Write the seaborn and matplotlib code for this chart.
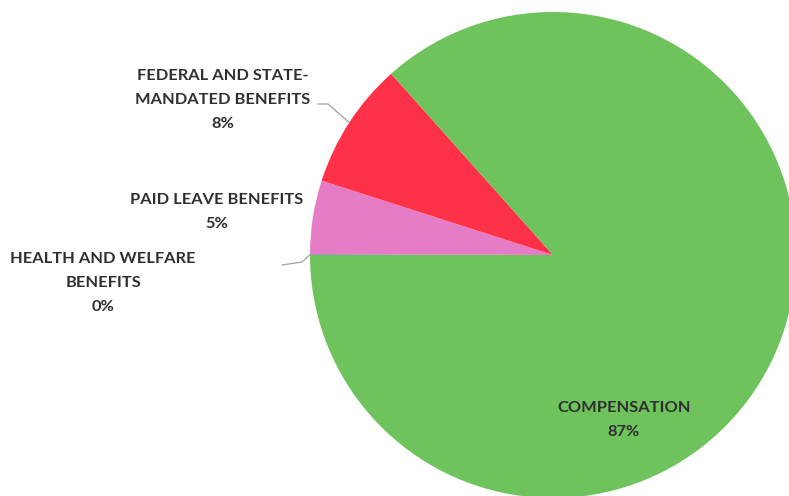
import numpy as np
import matplotlib
matplotlib.use("Agg")
import matplotlib.pyplot as plt
import seaborn as sns

categories = ["HEALTH AND WELFARE\nBENEFITS", "PAID LEAVE BENEFITS",
              "FEDERAL AND STATE-\nMANDATED BENEFITS", "COMPENSATION"]
shares = [0.05, 4.9, 8.45, 86.6]
colors = ["#4F81BD", "#E67CC6", "#FF3148", "#6EC35C"]

sns.set_theme(style="white")
plt.rcParams['font.family'] = ['Lato', 'DejaVu Sans']

W, H = 789, 496
fig = plt.figure(figsize=(W / 100, H / 100), dpi=100)
ax = fig.add_axes([0, 0, 1, 1])

cx, cy, R = 553, 255, 243
def px(x, y):
    return ((x - cx) / R, (cy - y) / R)

wedges, _ = ax.pie(shares, colors=colors, startangle=180, counterclock=False,
                   radius=1.0, center=(0, 0), frame=True,
                   wedgeprops=dict(linewidth=0))
ax.set_xlim(-cx / R, (W - cx) / R)
ax.set_ylim(-(H - cy) / R, cy / R)
ax.set_axis_off()

def mid(w):
    a = np.deg2rad((w.theta1 + w.theta2) / 2)
    return np.cos(a), np.sin(a)

label_pos = [px(103, 283), px(217, 212), px(223, 100), px(624, 420)]
txt_color = "#2f2f2f"
for cat, v, pos in zip(categories, shares, label_pos):
    ax.text(pos[0], pos[1], f"{cat}\n{v:.0f}%", ha="center", va="center",
            fontsize=11.8, fontweight="bold", color=txt_color, linespacing=1.95)

# leader lines
line_col = "#A0A0A0"
ex, ey = mid(wedges[2])
p1, p2 = px(318, 104), px(328, 104)
ax.plot([p1[0], p2[0], ex], [p1[1], p2[1], ey], color=line_col, lw=0.9)
ex, ey = mid(wedges[0])
p1, p2 = px(282, 265), px(302, 262)
ax.plot([p1[0], p2[0], ex], [p1[1], p2[1], ey], color=line_col, lw=0.9)

fig.savefig("out.png", dpi=100)
